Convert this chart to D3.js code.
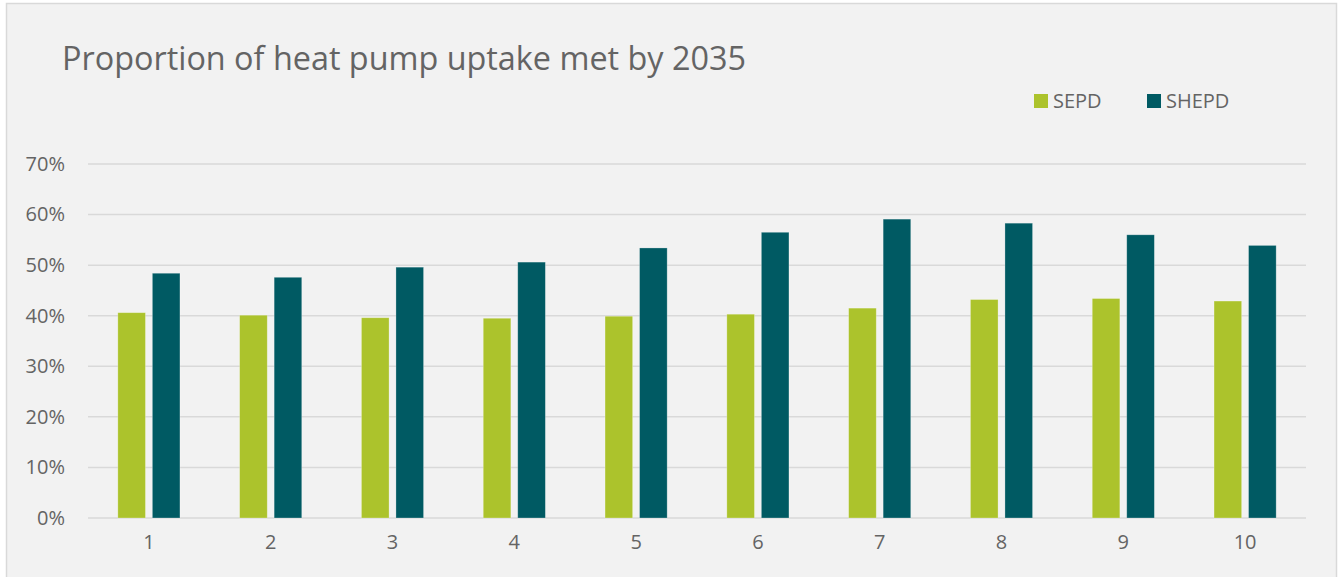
<!DOCTYPE html>
<html>
<head>
<meta charset="utf-8">
<script src="https://cdn.jsdelivr.net/npm/d3@7"></script>
<style>
  body { margin: 0; background: #ffffff; }
  svg text { font-family: "Open Sans", sans-serif; fill: #646464; }
</style>
</head>
<body>
<div id="chart"></div>
<script>
// data
let categories = ['1', '2', '3', '4', '5', '6', '7', '8', '9', '10'];
let seriesNames = ['SEPD', 'SHEPD'];
let sepdValues = [0.406, 0.401, 0.396, 0.395, 0.399, 0.403, 0.415, 0.432, 0.434, 0.429];
let shepdValues = [0.484, 0.476, 0.496, 0.506, 0.534, 0.565, 0.591, 0.583, 0.560, 0.539];
let yTicks = [0, 0.1, 0.2, 0.3, 0.4, 0.5, 0.6, 0.7];
let colors = ['#acc32c', '#005a63'];

let svgWidth = 1344;
let svgHeight = 577;
let margin = { top: 164, right: 38, bottom: 59, left: 88 };
let width = svgWidth - margin.left - margin.right;
let height = svgHeight - margin.top - margin.bottom;

let svg = d3.select('#chart').append('svg')
    .attr('width', svgWidth)
    .attr('height', svgHeight);

// chart area background and border
svg.append('rect')
    .attr('x', 6.5).attr('y', 3.5)
    .attr('width', 1330).attr('height', 600)
    .attr('fill', '#f2f2f2')
    .attr('stroke', '#d9d9d9')
    .attr('stroke-width', 1.5);

// title
svg.append('text')
    .attr('x', 62)
    .attr('y', 70)
    .attr('font-size', '32px')
    .attr('textLength', 684)
    .attr('lengthAdjust', 'spacingAndGlyphs')
    .text('Proportion of heat pump uptake met by 2035');

let g = svg.append('g').attr('transform', `translate(${margin.left}, ${margin.top})`);

// scales
let x0 = d3.scaleBand().domain(categories).range([0, width])
    .paddingInner(0.49).paddingOuter(0.245);
let x1 = d3.scaleBand().domain(seriesNames).range([0, x0.bandwidth()])
    .paddingInner(0.2);
let y = d3.scaleLinear().domain([0, 0.7]).range([height, 0]);

// gridlines
g.append('g')
    .selectAll('line')
    .data(yTicks)
    .enter()
    .append('line')
    .attr('x1', 0).attr('x2', width)
    .attr('y1', d => y(d)).attr('y2', d => y(d))
    .attr('stroke', '#d9d9d9')
    .attr('stroke-width', 1.5);

// y axis labels
let leftAxis = d3.axisLeft(y).tickValues(yTicks).tickFormat(d3.format('.0%')).tickSize(0).tickPadding(23);
let yAxisG = g.append('g').call(leftAxis);
yAxisG.select('.domain').remove();
yAxisG.selectAll('text').attr('font-size', '20px').attr('fill', '#646464').attr('font-family', '"Open Sans", sans-serif');

// x axis labels
let bottomAxis = d3.axisBottom(x0).tickSize(0).tickPadding(17);
let xAxisG = g.append('g').attr('transform', `translate(0, ${height})`).call(bottomAxis);
xAxisG.select('.domain').remove();
xAxisG.selectAll('text').attr('font-size', '20px').attr('fill', '#646464').attr('font-family', '"Open Sans", sans-serif');

// bars
let rows = categories.map((c, i) => ({ cat: c, values: [sepdValues[i], shepdValues[i]] }));

let groups = g.selectAll('.grp')
    .data(rows)
    .enter()
    .append('g')
    .attr('class', 'grp')
    .attr('transform', d => `translate(${x0(d.cat)}, 0)`);

groups.selectAll('rect')
    .data(d => d.values.map((v, j) => ({ name: seriesNames[j], value: v, color: colors[j] })))
    .enter()
    .append('rect')
    .attr('x', d => x1(d.name))
    .attr('y', d => y(d.value))
    .attr('width', x1.bandwidth())
    .attr('height', d => height - y(d.value))
    .attr('fill', d => d.color)
    .attr('stroke', 'rgba(255,255,255,0.35)')
    .attr('stroke-width', 0.75);

// legend
let legendX = [1034, 1147];
let legend = svg.append('g');
seriesNames.forEach((name, i) => {
    legend.append('rect')
        .attr('x', legendX[i]).attr('y', 94)
        .attr('width', 14).attr('height', 14)
        .attr('fill', colors[i]);
    legend.append('text')
        .attr('x', legendX[i] + 19)
        .attr('y', 108)
        .attr('font-size', '20px')
        .text(name);
});
</script>
</body>
</html>
